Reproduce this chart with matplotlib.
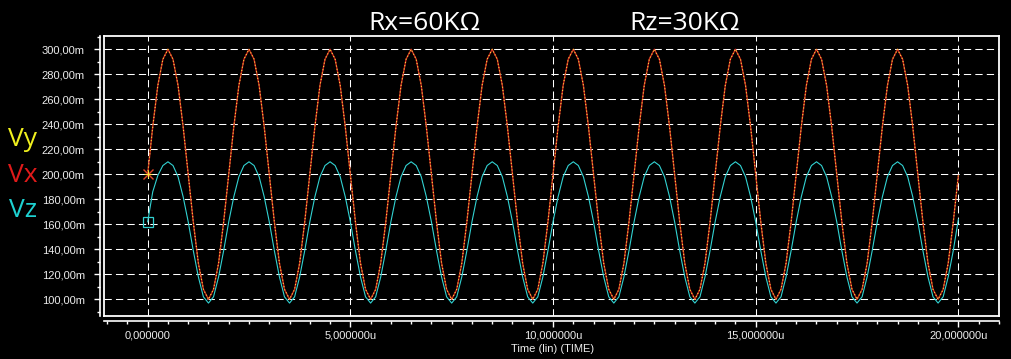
import numpy as np
import matplotlib as mpl
mpl.use("Agg")
import matplotlib.pyplot as plt
from matplotlib.ticker import FixedLocator, MultipleLocator, FuncFormatter

# %% data (mV), one row per 2u period, 0.125u steps
t_step = 0.125
vx = [200, 238, 271, 292, 300, 292, 271, 238, 200, 162, 129, 108, 100, 108, 129, 162,
      200, 238, 271, 292, 300, 292, 271, 238, 200, 162, 129, 108, 100, 108, 129, 162,
      200, 238, 271, 292, 300, 292, 271, 238, 200, 162, 129, 108, 100, 108, 129, 162,
      200, 238, 271, 292, 300, 292, 271, 238, 200, 162, 129, 108, 100, 108, 129, 162,
      200, 238, 271, 292, 300, 292, 271, 238, 200, 162, 129, 108, 100, 108, 129, 162,
      200, 238, 271, 292, 300, 292, 271, 238, 200, 162, 129, 108, 100, 108, 129, 162,
      200, 238, 271, 292, 300, 292, 271, 238, 200, 162, 129, 108, 100, 108, 129, 162,
      200, 238, 271, 292, 300, 292, 271, 238, 200, 162, 129, 108, 100, 108, 129, 162,
      200, 238, 271, 292, 300, 292, 271, 238, 200, 162, 129, 108, 100, 108, 129, 162,
      200, 238, 271, 292, 300, 292, 271, 238, 200, 162, 129, 108, 100, 108, 129, 162,
      199]
vy = list(vx)  # Vy sits exactly on top of Vx
vz = [162, 186, 199, 207, 210, 207, 198, 182, 162, 139, 118, 102, 97, 102, 118, 139,
      162, 182, 198, 207, 210, 207, 198, 182, 162, 139, 118, 102, 97, 102, 118, 139,
      162, 182, 198, 207, 210, 207, 198, 182, 162, 139, 118, 102, 97, 102, 118, 139,
      162, 182, 198, 207, 210, 207, 198, 182, 162, 139, 118, 102, 97, 102, 118, 139,
      162, 182, 198, 207, 210, 207, 198, 182, 162, 139, 118, 102, 97, 102, 118, 139,
      162, 182, 198, 207, 210, 207, 198, 182, 162, 139, 118, 102, 97, 102, 118, 139,
      162, 182, 198, 207, 210, 207, 198, 182, 162, 139, 118, 102, 97, 102, 118, 139,
      162, 182, 198, 207, 210, 207, 198, 182, 162, 139, 118, 102, 97, 102, 118, 139,
      162, 182, 198, 207, 210, 207, 198, 182, 162, 139, 118, 102, 97, 102, 118, 139,
      162, 182, 198, 207, 210, 207, 198, 182, 162, 139, 118, 102, 97, 102, 118, 139,
      164]
x_ticks = [0, 5, 10, 15, 20]
y_ticks = [100, 120, 140, 160, 180, 200, 220, 240, 260, 280, 300]
titles = ["Rx=60KΩ", "Rz=30KΩ"]
trace_names = ["Vy", "Vx", "Vz"]

time = np.arange(len(vx)) * t_step

# %% figure
W, H = 1011, 359
fig = plt.figure(figsize=(W / 100, H / 100), dpi=100, facecolor="black")
pos = [104.3 / W, 1 - 315.7 / H, (999.3 - 104.3) / W, (315.7 - 36) / H]
xlim = (-1.07, 21.01)
ylim = (86.9, 310.6)

ax = fig.add_axes(pos, facecolor="black")
ax.set_xlim(*xlim)
ax.set_ylim(*ylim)
for s in ax.spines.values():
    s.set_color("white")
    s.set_linewidth(1.3)
ax.set_xticks([])
ax.set_yticks([])
grid_kw = dict(color="white", lw=0.75, ls=(0, (7, 4)), zorder=1)
for v in y_ticks:
    ax.axhline(v, **grid_kw)
for v in x_ticks:
    ax.axvline(v, **grid_kw)

ax.plot(time, vx, color="#c8281e", lw=1.0, zorder=3)
ax.plot(time, vy, color="#ffd23c", lw=0.8, ls=(0, (1, 2)), zorder=4)
ax.plot(time, vz, color="#32d2d2", lw=0.8, zorder=3)
ax.plot(0, vx[0], marker="x", ms=7, mew=1.0, color="#e04628", zorder=5)
ax.plot(0, vx[0], marker="+", ms=6, mew=0.8, color="#ffe040", zorder=6)
ax.plot(0, vz[0], marker="s", ms=7, mfc="none", mew=0.9, color="#32d2d2", zorder=5)

# separate tick axes sitting just outside the frame
ax2 = fig.add_axes(pos, facecolor="none", zorder=5)
ax2.set_xlim(*xlim)
ax2.set_ylim(*ylim)
for k in ("top", "right"):
    ax2.spines[k].set_visible(False)
ax2.spines["left"].set_position(("outward", 3))
ax2.spines["bottom"].set_position(("outward", 3.6))
for k in ("left", "bottom"):
    ax2.spines[k].set_color("white")
    ax2.spines[k].set_linewidth(1.2)
ax2.xaxis.set_major_locator(FixedLocator(x_ticks))
ax2.xaxis.set_minor_locator(MultipleLocator(0.5))
ax2.yaxis.set_major_locator(FixedLocator(y_ticks))
ax2.yaxis.set_minor_locator(MultipleLocator(10))
ax2.xaxis.set_major_formatter(FuncFormatter(
    lambda v, p: "0,000000" if v == 0 else f"{v:.6f}".replace(".", ",") + "u"))
ax2.yaxis.set_major_formatter(FuncFormatter(
    lambda v, p: f"{v:.2f}".replace(".", ",") + "m"))
ax2.tick_params(which="major", length=4, width=1, color="white",
                labelcolor="#ececec", labelsize=8, pad=3)
ax2.tick_params(which="minor", length=2.5, width=1, color="white")
ax2.tick_params(axis="y", which="major", pad=7)
for lab in ax2.get_xticklabels() + ax2.get_yticklabels():
    lab.set_family("Liberation Sans")

fig.text(552.7 / W, 1 - 349 / H, "Time (lin) (TIME)", color="#ececec",
         fontsize=8, family="Liberation Sans", ha="center", va="center")

# titles and trace names
fig.text(424 / W, 1 - 23 / H, titles[0], color="white", fontsize=19,
         family="Open Sans", ha="center", va="center")
fig.text(685 / W, 1 - 23 / H, titles[1], color="white", fontsize=19,
         family="Open Sans", ha="center", va="center")
name_colors = ["#f0f01e", "#e01a1a", "#1ed2d2"]
name_y = [140, 175, 210]
for name, c, y in zip(trace_names, name_colors, name_y):
    fig.text(23 / W, 1 - y / H, name, color=c, fontsize=19,
             family="Open Sans", ha="center", va="center")

fig.savefig("out.png", dpi=100, facecolor="black")
